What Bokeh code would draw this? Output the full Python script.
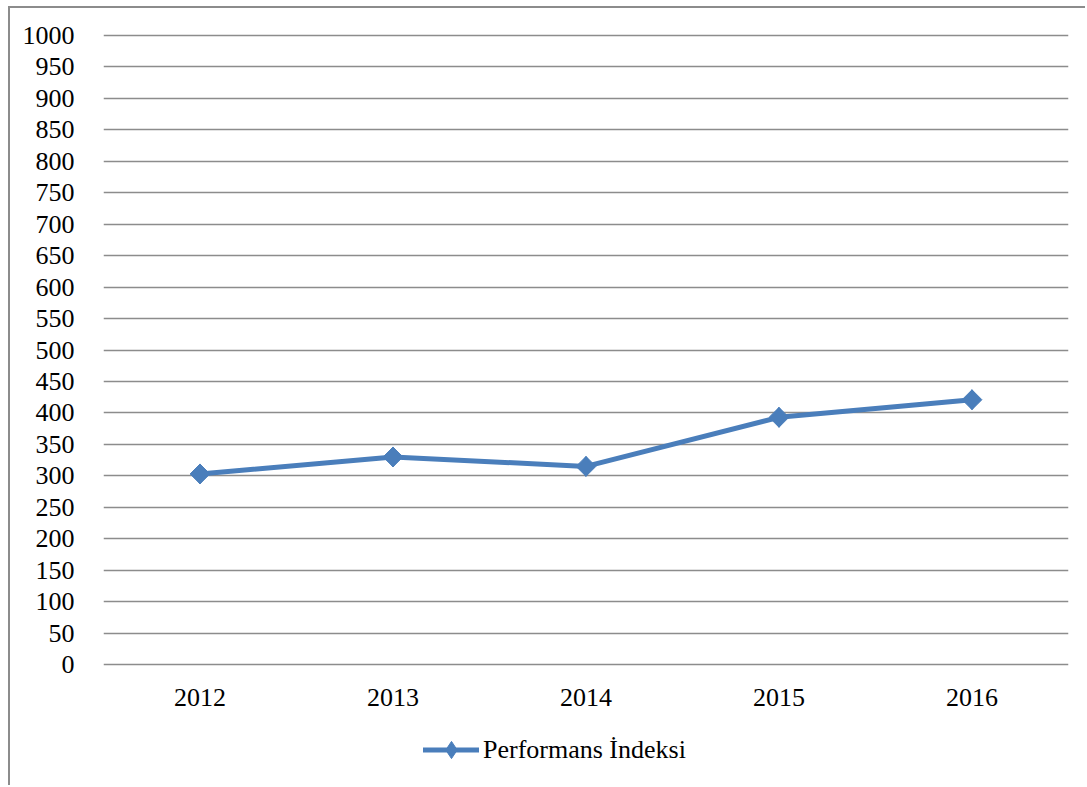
from bokeh.plotting import figure
from bokeh.models import Range1d, FixedTicker, Legend, LegendItem
from bokeh.embed import file_html
from bokeh.resources import INLINE
import numpy as np

# Performance index by year
years = ["2012", "2013", "2014", "2015", "2016"]
index_values = [303, 330, 315, 393, 421]
y_ticks = list(range(0, 1001, 50))

LINE_BLUE = "#4a7ebb"
GRID_GRAY = "#8c8c8c"
FONT = "Liberation Serif"

p = figure(
    x_range=years,
    y_range=Range1d(-195.5, 1004.8),
    width=1077,
    height=779,
    min_border_left=93,
    min_border_right=19,
    min_border_top=24,
    min_border_bottom=0,
    output_backend="svg",
    toolbar_location=None,
)
p.styles = {
    "margin-left": "8px",
    "margin-top": "6px",
    "border-left": "2px solid #8c8c8c",
    "border-top": "2px solid #8c8c8c",
}
p.outline_line_color = None
p.background_fill_color = "white"
p.border_fill_color = "white"

line = p.line(years, index_values, line_color=LINE_BLUE, line_width=5,
              line_cap="round")
# narrow diamond used for the legend swatch, covered by the square-diamond below
legend_marks = p.scatter(years, index_values, marker="diamond", size=20,
                         fill_color=LINE_BLUE, line_color=LINE_BLUE)
pts = p.scatter(years, index_values, marker="square", size=14, angle=np.pi / 4,
                fill_color=LINE_BLUE, line_color=LINE_BLUE)

# y axis: labels only, horizontal grid every 50
p.yaxis.ticker = FixedTicker(ticks=y_ticks)
p.yaxis.axis_line_color = None
p.yaxis.major_tick_line_color = None
p.yaxis.minor_tick_line_color = None
p.yaxis.major_label_standoff = 23
p.yaxis.major_label_text_font = FONT
p.yaxis.major_label_text_font_size = "26px"
p.yaxis.major_label_text_color = "black"
p.ygrid.ticker = FixedTicker(ticks=y_ticks)
p.ygrid.grid_line_color = GRID_GRAY
p.ygrid.grid_line_width = 1.5

# category axis drawn at the zero line
p.xgrid.grid_line_color = None
p.xaxis.fixed_location = 0
p.xaxis.axis_line_color = None
p.xaxis.major_tick_line_color = None
p.xaxis.major_label_standoff = 18
p.xaxis.major_label_text_font = FONT
p.xaxis.major_label_text_font_size = "26px"
p.xaxis.major_label_text_color = "black"

# legend placed in the empty band under the category labels
legend = Legend(
    items=[LegendItem(label="Performans İndeksi", renderers=[line, legend_marks])],
    location=(320, 16),
    orientation="horizontal",
    border_line_color=None,
    background_fill_alpha=0,
    label_text_font=FONT,
    label_text_font_size="26px",
    label_text_color="black",
    glyph_width=56,
    glyph_height=43,
    label_standoff=4,
    padding=0,
    margin=0,
)
p.add_layout(legend, "center")

open("out.html", "w").write(file_html(p, INLINE))
